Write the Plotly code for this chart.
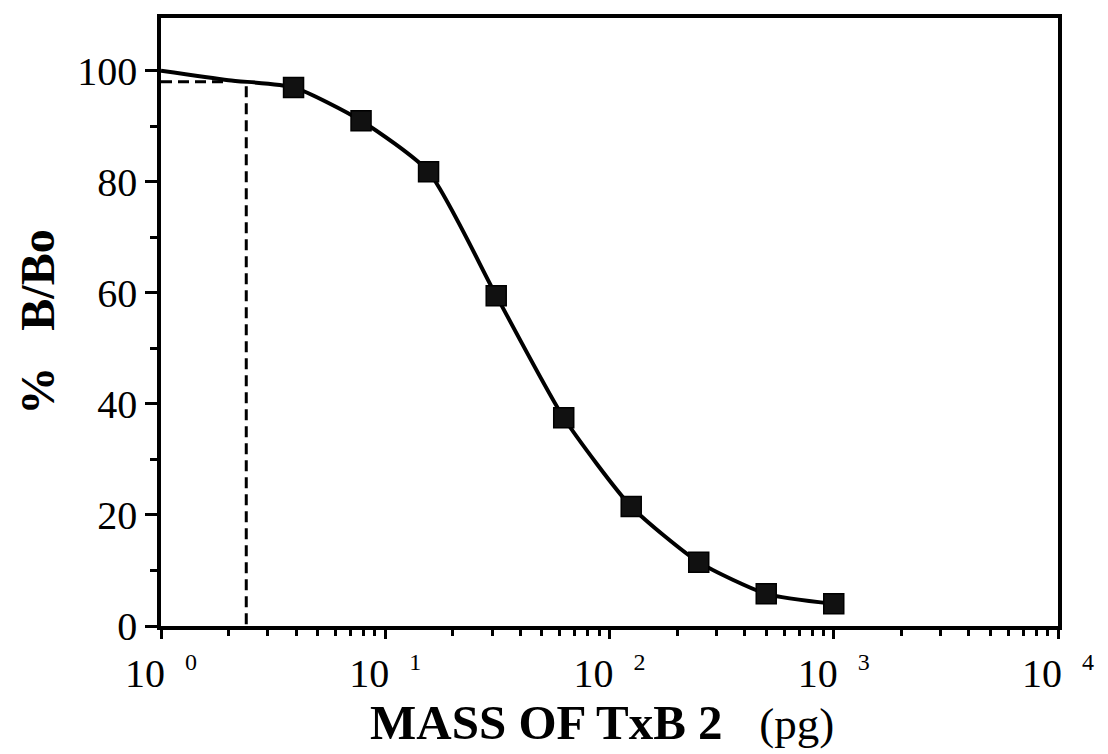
import plotly.graph_objects as go

# Standard curve data (pg of TxB2 vs % B/Bo)
mass_pg = [3.9, 7.8, 15.6, 31.25, 62.5, 125, 250, 500, 1000]
pct_b_bo = [97.0, 91.0, 81.8, 59.5, 37.5, 21.5, 11.5, 5.8, 4.0]

# Fitted curve (starts at 100 % at 1 pg and passes through points)
curve_x = [1.0, 2.0, 3.9, 7.8, 15.6, 31.25, 62.5, 125, 250, 500, 1000]
curve_y = [100.0, 98.3, 97.0, 91.0, 81.8, 59.5, 37.5, 21.5, 11.5, 5.8, 4.0]

# Detection-limit guide lines
hline_x = [1.0, 1.95]
hline_y = [98.0, 98.0]
vline_x = [2.4, 2.4]
vline_y = [97.2, 0.0]

x_tickvals = [1, 10, 100, 1000, 10000]
x_exponents = ["0", "1", "2", "3", "4"]
x_ticktext = ["10  <sup><span style='font-size:24px'>%s</span></sup>" % e for e in x_exponents]
y_tickvals = [0, 20, 40, 60, 80, 100]

x_title = "<b>MASS OF TxB 2</b>   <span style='font-size:45px'>(pg)</span>"
y_title = "<b>%   B/Bo</b>"

fig = go.Figure()
fig.add_trace(go.Scatter(x=hline_x, y=hline_y, mode="lines",
                         line=dict(color="black", width=3, dash="11px,6px"),
                         showlegend=False, hoverinfo="skip"))
fig.add_trace(go.Scatter(x=vline_x, y=vline_y, mode="lines",
                         line=dict(color="black", width=3, dash="11px,6px"),
                         showlegend=False, hoverinfo="skip"))
fig.add_trace(go.Scatter(x=curve_x, y=curve_y, mode="lines",
                         line=dict(color="black", width=4, shape="spline", smoothing=0.6),
                         showlegend=False))
fig.add_trace(go.Scatter(x=mass_pg, y=pct_b_bo, mode="markers",
                         marker=dict(symbol="square", size=20, color="#111111",
                                     line=dict(color="black", width=1.5)),
                         showlegend=False))

font_family = "Liberation Serif, Times New Roman, serif"

fig.update_layout(
    width=1108, height=754,
    margin=dict(l=161, r=50, t=18, b=128),
    paper_bgcolor="white", plot_bgcolor="white",
    font=dict(family=font_family, color="black"),
)
fig.update_xaxes(
    type="log", range=[0, 4], automargin=False,
    tickvals=x_tickvals, ticktext=x_ticktext,
    ticks="outside", ticklen=9, tickwidth=3, tickcolor="black",
    minor=dict(ticks="outside", ticklen=6, tickwidth=2.5, tickcolor="black", dtick="D1"),
    showline=True, linecolor="black", linewidth=3.5, mirror=True,
    showgrid=False, zeroline=False,
    tickfont=dict(size=40, family=font_family),
    ticklabelstandoff=0,
)
fig.update_yaxes(
    range=[0, 109.5], automargin=False,
    tickvals=y_tickvals,
    ticks="outside", ticklen=12, tickwidth=3, tickcolor="black",
    minor=dict(ticks="outside", ticklen=7, tickwidth=2.5, tickcolor="black", dtick=10),
    showline=True, linecolor="black", linewidth=3.5, mirror=True,
    showgrid=False, zeroline=False,
    tickfont=dict(size=40, family=font_family),
    title=dict(text=y_title, font=dict(size=48, family=font_family), standoff=8),
)
fig.add_annotation(
    text=x_title, xref="paper", yref="paper",
    x=(602 - 161) / 897, y=-(722 - 626) / 608,
    xanchor="center", yanchor="middle", showarrow=False,
    font=dict(size=49, family=font_family, color="black"),
)

fig.write_html("out.html")
